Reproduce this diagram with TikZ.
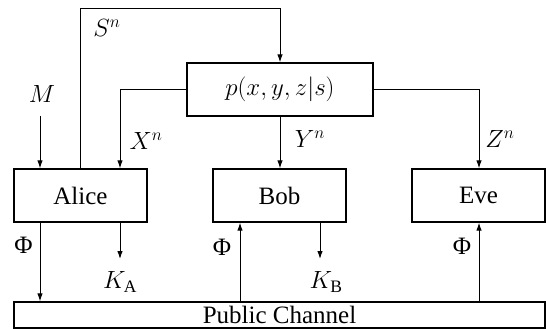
\documentclass[tikz,border=0pt]{standalone}
\usepackage{amsmath}
\usepackage{fontspec}
\setmainfont{Liberation Serif}
\usetikzlibrary{arrows.meta}
\begin{document}
\begin{tikzpicture}[x=1pt,y=-1pt,
  every node/.style={font=\fontsize{25}{30}\selectfont},
  blk/.style={draw,line width=1.3pt,minimum height=53pt,inner sep=0pt},
  arr/.style={line width=1pt,-{Latex[length=8pt,width=5.5pt]}},
  lbl/.style={inner sep=0pt}]
\useasboundingbox (0,0) rectangle (546,329);
\node[blk,minimum width=133pt] (alice) at (80.5,195.5) {Alice};
\node[blk,minimum width=133pt] (bob) at (279.5,195.5) {Bob};
\node[blk,minimum width=133pt] (eve) at (478.5,195.5) {Eve};
\node[blk,minimum width=186pt] (p) at (280,89.5) {$p(x,y,z|s)$};
\node[draw,line width=1.3pt,minimum width=531pt,minimum height=26pt,inner sep=0pt] (pub) at (279.5,315) {Public Channel};
% S^n loop
\coordinate (stop) at (80,9);
\draw[arr] ([xshift=-0.5pt]alice.north) |- (stop -| p.north) -- (p.north);
\node[lbl] (sl) at (107,28) {$S^n$};
% M
\node[lbl] (m) at (42,94) {$M$};
\coordinate (mstart) at (40,116);
\draw[arr] (mstart) -- (mstart |- alice.north);
% X
\coordinate (xc) at (120,0);
\draw[arr] (p.west) -| (xc |- alice.north);
\node[lbl] (xl) at (146,141) {$X^n$};
% Y
\draw[arr] (p.south) -- (p.south |- bob.north);
\node[lbl] (yl) at (310,139) {$Y^n$};
% Z
\coordinate (zc) at (479,0);
\draw[arr] (p.east) -| (zc |- eve.north);
\node[lbl] (zl) at (500,139) {$Z^n$};
% Alice outputs
\coordinate (aphi) at (40,0);
\draw[arr] (aphi |- alice.south) -- (aphi |- pub.north);
\node[lbl] (phia) at (23.5,245) {Φ};
\coordinate (ka) at (120,259);
\draw[arr] (ka |- alice.south) -- (ka);
\node[lbl] (kal) at (120,282) {$K_{\text{A}}$};
% Bob
\coordinate (bphi) at (240,0);
\draw[arr] (bphi |- pub.north) -- (bphi |- bob.south);
\node[lbl] (phib) at (222,247) {Φ};
\coordinate (kb) at (320,259);
\draw[arr] (kb |- bob.south) -- (kb);
\node[lbl] (kbl) at (326,282) {$K_{\text{B}}$};
% Eve
\draw[arr] (zc |- pub.north) -- (zc |- eve.south);
\node[lbl] (phie) at (462,246) {Φ};
\end{tikzpicture}
\end{document}
